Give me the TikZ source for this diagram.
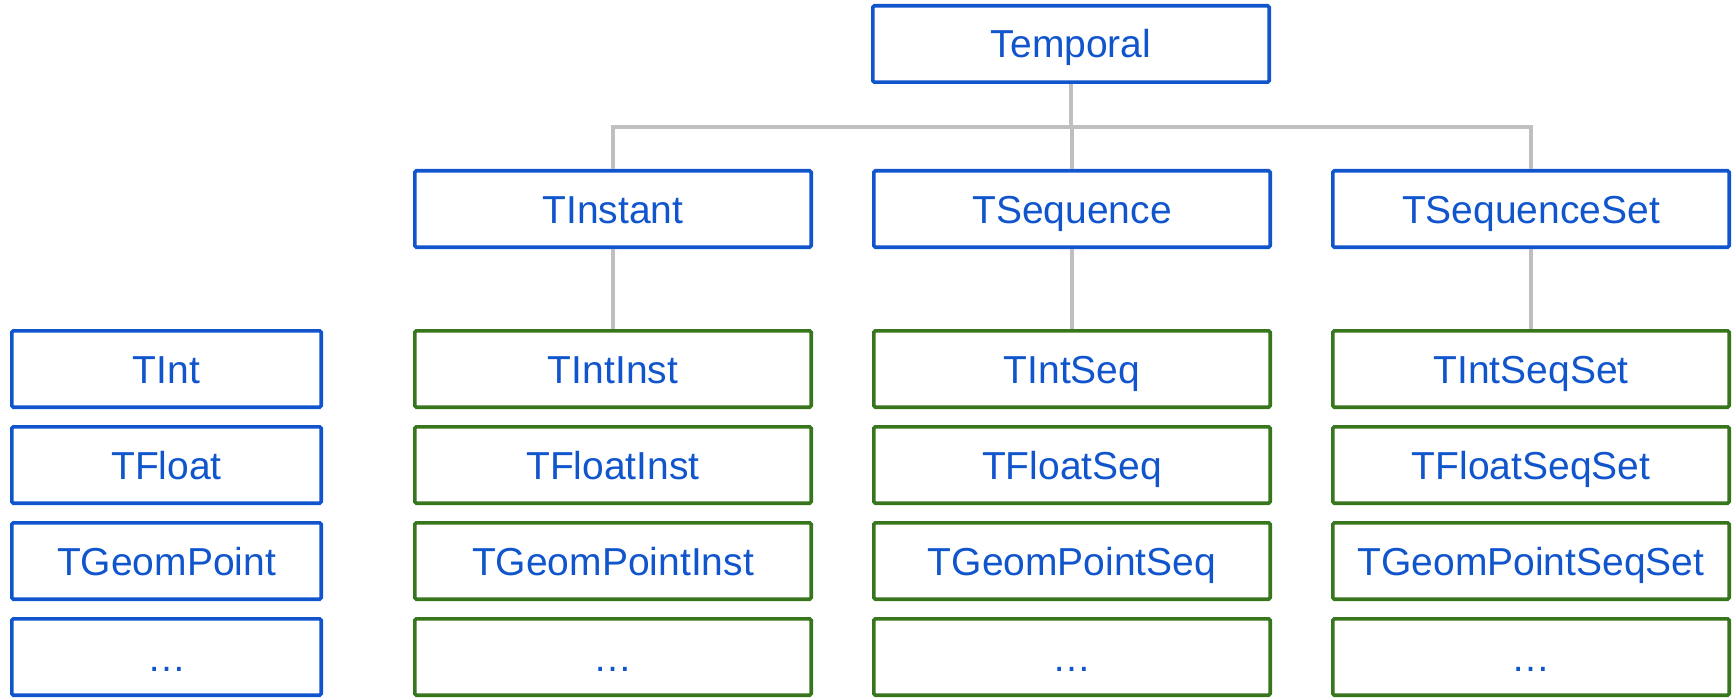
\documentclass[tikz,border=0pt]{standalone}
\usepackage{fontspec}
\setmainfont{Liberation Sans}
\definecolor{gblue}{HTML}{1155CC}
\definecolor{ggreen}{HTML}{38761D}
\definecolor{ggray}{HTML}{BFBFBF}
\begin{document}
\begin{tikzpicture}[x=1pt,y=-1pt,
  box/.style={draw=gblue,line width=3.6pt,rounded corners=1.5pt,minimum width=396.4pt,minimum height=76.4pt,inner sep=0pt,
    text=gblue,font=\fontsize{39}{46}\selectfont,text height=28pt,text depth=0pt},
  gbox/.style={box,draw=ggreen},
  lbox/.style={box,minimum width=309.4pt},
  conn/.style={draw=ggray,line width=3.2pt}]
\useasboundingbox (0,0) rectangle (1735,698);
\node[box] (temporal) at (1071,44) {Temporal};
\node[box] (tinst) at (613,209) {TInstant};
\node[box] (tseq) at (1072,209) {TSequence};
\node[box] (tseqset) at (1531,209) {TSequenceSet};
% left column
\node[lbox] (tint) at (166.5,369) {TInt};
\node[lbox] (tfloat) at (166.5,465) {TFloat};
\node[lbox] (tgeom) at (166.5,561) {TGeomPoint};
\node[lbox] (tdots) at (166.5,657) {…};
% column 1
\node[gbox] (tintinst) at (613,369) {TIntInst};
\node[gbox] (tfloatinst) at (613,465) {TFloatInst};
\node[gbox] (tgeominst) at (613,561) {TGeomPointInst};
\node[gbox] (instdots) at (613,657) {…};
% column 2
\node[gbox] (tintseq) at (1072,369) {TIntSeq};
\node[gbox] (tfloatseq) at (1072,465) {TFloatSeq};
\node[gbox] (tgeomseq) at (1072,561) {TGeomPointSeq};
\node[gbox] (seqdots) at (1072,657) {…};
% column 3
\node[gbox] (tintseqset) at (1531,369) {TIntSeqSet};
\node[gbox] (tfloatseqset) at (1531,465) {TFloatSeqSet};
\node[gbox] (tgeomseqset) at (1531,561) {TGeomPointSeqSet};
\node[gbox] (seqsetdots) at (1531,657) {…};
% connectors
\coordinate (bus) at (1071,127);
\draw[conn] (temporal.south) -- (bus);
\draw[conn] (tinst.north) |- (bus);
\draw[conn] (tseqset.north) |- (bus);
\draw[conn] (tseq.north) -- (tseq.north |- bus);
\draw[conn] (tinst.south) -- (tintinst.north);
\draw[conn] (tseq.south) -- (tintseq.north);
\draw[conn] (tseqset.south) -- (tintseqset.north);
\end{tikzpicture}
\end{document}
